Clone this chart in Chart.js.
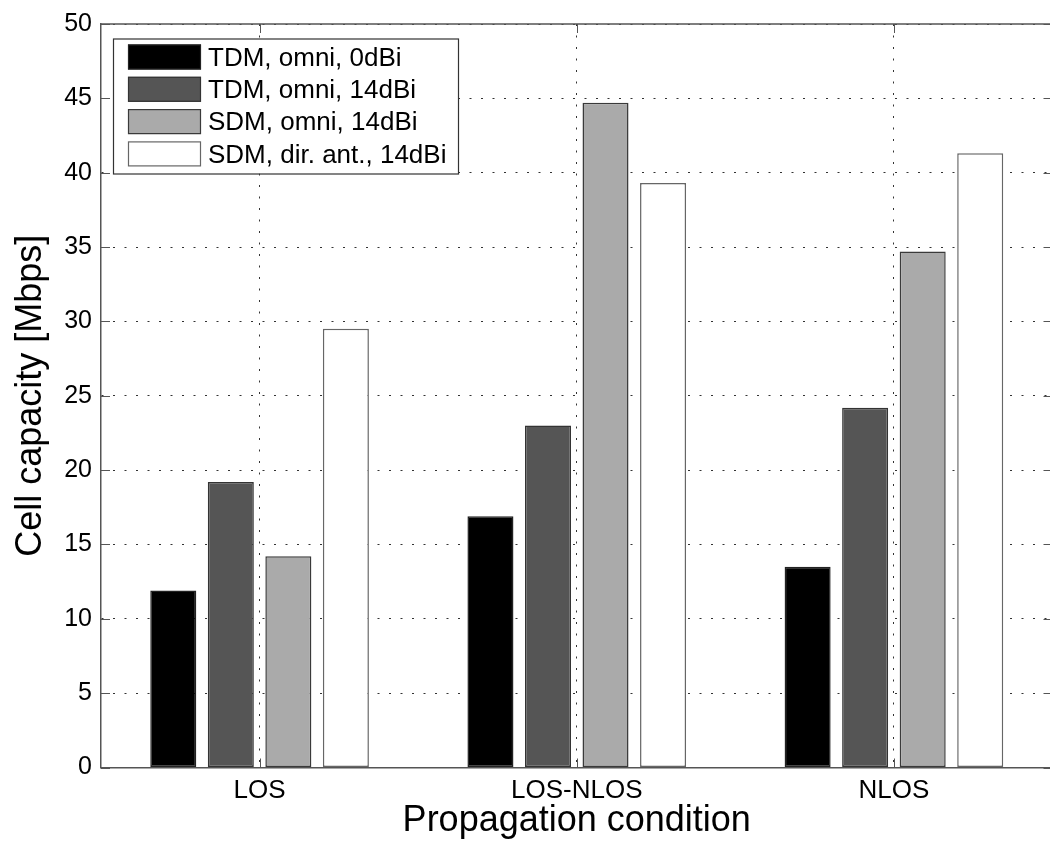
<!DOCTYPE html>
<html>
<head>
<meta charset="utf-8">
<title>Cell capacity vs propagation condition</title>
<script src="https://cdn.jsdelivr.net/npm/chart.js@4.4.1/dist/chart.umd.min.js"></script>
<style>
  html, body { margin: 0; padding: 0; background: #fff; overflow: hidden; }
  #wrap { width: 1060px; height: 843px; }
</style>
</head>
<body>
<div id="wrap"><canvas id="myChart" width="1060" height="843"></canvas></div>
<script>
// data
const categories = ['LOS', 'LOS-NLOS', 'NLOS'];
const seriesNames = ['TDM, omni, 0dBi', 'TDM, omni, 14dBi', 'SDM, omni, 14dBi', 'SDM, dir. ant., 14dBi'];
const tdmOmni0 = [11.9, 16.9, 13.5];
const tdmOmni14 = [19.2, 23.0, 24.2];
const sdmOmni14 = [14.2, 44.7, 34.7];
const sdmDir14 = [29.5, 39.3, 41.3];
const yTicks = [0, 5, 10, 15, 20, 25, 30, 35, 40, 45, 50];

const fills = ['#000000', '#555555', '#aaaaaa', '#ffffff'];
const edges = ['#222222', '#333333', '#3a3a3a', '#666666'];
const font = "'Liberation Sans', Arial, Helvetica, sans-serif";
const axisColor = '#555555';

//box, inner tick marks and the legend, MATLAB style
const matlabLook = {
  id: 'matlabLook',
  afterDraw(chart) {
    const { ctx, chartArea: a, scales: { x, y } } = chart;
    ctx.save();
    ctx.strokeStyle = axisColor;
    ctx.lineWidth = 1.5;
    ctx.beginPath();
    ctx.moveTo(a.left, a.top);
    ctx.lineTo(a.right, a.top);
    ctx.lineTo(a.right, a.bottom);
    ctx.stroke();

    // inner ticks
    ctx.lineWidth = 1;
    ctx.beginPath();
    for (const v of yTicks) {
      const py = Math.round(y.getPixelForValue(v)) + 0.5;
      ctx.moveTo(a.left, py);
      ctx.lineTo(a.left + 9, py);
      ctx.moveTo(a.right, py);
      ctx.lineTo(a.right - 9, py);
    }
    categories.forEach(function (c, i) {
      const px = Math.round(x.getPixelForValue(i)) + 0.5;
      ctx.moveTo(px, a.bottom);
      ctx.lineTo(px, a.bottom - 9);
      ctx.moveTo(px, a.top);
      ctx.lineTo(px, a.top + 9);
    });
    ctx.stroke();

    // legend
    const lx = a.left + 12, ly = a.top + 14.5;
    const lw = 345, lh = 135;
    ctx.fillStyle = '#fff';
    ctx.fillRect(lx, ly, lw, lh);
    ctx.strokeStyle = '#333';
    ctx.lineWidth = 1.2;
    ctx.strokeRect(lx + 0.5, ly + 0.5, lw, lh);

    ctx.font = '26px ' + font;
    ctx.textBaseline = 'middle';
    ctx.textAlign = 'left';
    chart.data.datasets.forEach(function (ds, i) {
      const sy = ly + 6 + i * 32.3;
      ctx.fillStyle = ds.backgroundColor;
      ctx.fillRect(lx + 15, sy, 73, 25);
      ctx.strokeStyle = ds.borderColor;
      ctx.lineWidth = 1.2;
      ctx.strokeRect(lx + 15.5, sy + 0.5, 72, 24);
      ctx.fillStyle = '#000';
      ctx.fillText(ds.label, lx + 95, sy + 14);
    });
    ctx.restore();
  }
};

const seriesData = [tdmOmni0, tdmOmni14, sdmOmni14, sdmDir14];

const ctx = document.getElementById('myChart').getContext('2d');

const chart = new Chart(ctx, {
  type: 'bar',
  data: {
    labels: categories,
    datasets: seriesData.map(function (vals, i) {
      return {
        label: seriesNames[i],
        data: vals,
        backgroundColor: fills[i],
        borderColor: edges[i],
        borderWidth: 1.5,
        borderSkipped: false,
        categoryPercentage: 0.7256,
        barPercentage: 0.8
      };
    })
  },
  options: {
    responsive: false,
    animation: false,
    layout: { padding: { top: 17.5, right: 7.5, left: 0, bottom: 0 } },
    plugins: {
      legend: { display: false },
      tooltip: { enabled: false }
    },
    scales: {
      x: {
        offset: true,
        grid: {
          offset: false,
          color: '#333',
          lineWidth: 1,
          drawTicks: false,
          borderDash: [2, 9.5]
        },
        border: { display: true, color: axisColor, width: 1.5, dash: [2, 9.5] },
        ticks: {
          color: '#000',
          padding: 8,
          maxRotation: 0,
          font: { family: font, size: 26 }
        },
        title: {
          display: true,
          text: 'Propagation condition',
          color: '#000',
          font: { family: font, size: 36, lineHeight: 1.2 },
          padding: { top: 0, bottom: 0 }
        },
        afterFit: function (scale) { scale.height = 75.5; }
      },
      y: {
        min: 0,
        max: 50,
        afterBuildTicks: function (scale) {
          scale.ticks = yTicks.map(function (v) { return { value: v }; });
        },
        grid: {
          color: '#333',
          lineWidth: 1,
          drawTicks: false,
          borderDash: [2, 9.5]
        },
        border: { display: true, color: axisColor, width: 1.5, dash: [2, 9.5] },
        ticks: {
          color: '#000',
          padding: 9,
          font: { family: font, size: 25 }
        },
        title: {
          display: true,
          text: 'Cell capacity [Mbps]',
          color: '#000',
          font: { family: font, size: 36, lineHeight: 1.2 },
          padding: { top: 9, bottom: 0 }
        },
        afterFit: function (scale) { scale.width = 101; }
      }
    }
  },
  plugins: [matlabLook]
});
</script>
</body>
</html>
